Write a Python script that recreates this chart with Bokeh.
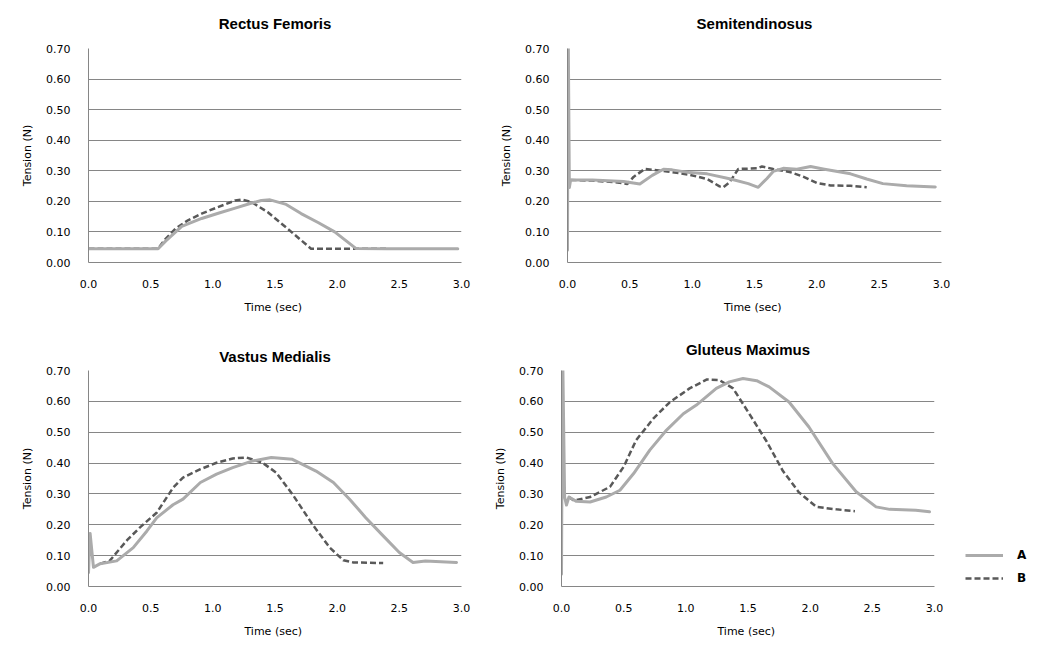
from bokeh.plotting import figure
from bokeh.layouts import column, row
from bokeh.models import (Range1d, FixedTicker, NumeralTickFormatter, Title,
                          Legend, LegendItem)
from bokeh.embed import file_html
from bokeh.resources import INLINE

# ---------------- data ----------------
titles = ["Rectus Femoris", "Semitendinosus", "Vastus Medialis", "Gluteus Maximus"]
series_names = ["A", "B"]
x_ticks = [0.0, 0.5, 1.0, 1.5, 2.0, 2.5, 3.0]
y_ticks = [0.0, 0.1, 0.2, 0.3, 0.4, 0.5, 0.6, 0.7]

# Rectus Femoris
rf_time_a = [0.0, 0.56, 0.62, 0.75, 0.91, 1.05, 1.18, 1.30, 1.39, 1.46, 1.59, 1.71,
             1.85, 1.98, 2.15, 2.40, 2.70, 2.97]
rf_a = [0.045, 0.045, 0.070, 0.118, 0.144, 0.162, 0.178, 0.193, 0.203, 0.205, 0.190,
        0.160, 0.130, 0.100, 0.046, 0.045, 0.045, 0.045]
rf_time_b = [0.0, 0.56, 0.61, 0.70, 0.80, 0.91, 1.04, 1.18, 1.23, 1.31, 1.44, 1.60,
             1.79, 2.10, 2.40]
rf_b = [0.045, 0.045, 0.073, 0.111, 0.138, 0.160, 0.181, 0.203, 0.206, 0.198, 0.165,
        0.111, 0.045, 0.045, 0.045]

# Semitendinosus
st_time_a = [0.0, 0.005, 0.015, 0.025, 0.20, 0.45, 0.58, 0.68, 0.77, 0.84, 0.98, 1.12,
             1.30, 1.45, 1.53, 1.60, 1.65, 1.73, 1.84, 1.95, 2.05, 2.27, 2.40, 2.53,
             2.72, 2.95]
st_a = [0.04, 0.80, 0.245, 0.27, 0.27, 0.265, 0.257, 0.285, 0.305, 0.303, 0.294, 0.29,
        0.274, 0.258, 0.246, 0.275, 0.298, 0.308, 0.305, 0.314, 0.306, 0.29, 0.273,
        0.258, 0.251, 0.247]
st_time_b = [0.025, 0.20, 0.40, 0.48, 0.53, 0.62, 0.80, 0.98, 1.12, 1.22, 1.25, 1.30,
             1.37, 1.52, 1.56, 1.65, 1.79, 1.89, 2.00, 2.11, 2.27, 2.40]
st_b = [0.27, 0.268, 0.262, 0.257, 0.28, 0.306, 0.298, 0.287, 0.273, 0.249, 0.246, 0.262,
        0.306, 0.308, 0.314, 0.306, 0.295, 0.281, 0.26, 0.252, 0.251, 0.246]

# Vastus Medialis
vm_time_a = [0.0, 0.013, 0.04, 0.094, 0.227, 0.36, 0.47, 0.55, 0.68, 0.76, 0.90, 1.03,
             1.16, 1.32, 1.47, 1.64, 1.83, 1.97, 2.10, 2.23, 2.37, 2.50, 2.61, 2.71, 2.96]
vm_a = [0.045, 0.172, 0.062, 0.074, 0.083, 0.126, 0.18, 0.223, 0.265, 0.283, 0.337,
        0.364, 0.385, 0.407, 0.418, 0.412, 0.374, 0.337, 0.283, 0.223, 0.164, 0.11,
        0.078, 0.083, 0.078]
vm_time_b = [0.094, 0.17, 0.31, 0.41, 0.55, 0.68, 0.76, 0.90, 1.03, 1.16, 1.27, 1.40,
             1.51, 1.64, 1.80, 1.94, 2.05, 2.13, 2.37]
vm_b = [0.074, 0.083, 0.15, 0.19, 0.24, 0.32, 0.353, 0.38, 0.401, 0.415, 0.418, 0.401,
        0.369, 0.299, 0.202, 0.126, 0.085, 0.078, 0.076]

# Gluteus Maximus
gm_time_a = [0.0, 0.008, 0.025, 0.04, 0.06, 0.12, 0.23, 0.36, 0.47, 0.58, 0.71, 0.845,
             0.98, 1.085, 1.245, 1.35, 1.46, 1.57, 1.67, 1.83, 1.99, 2.18, 2.37, 2.53,
             2.64, 2.85, 2.96]
gm_a = [0.04, 0.80, 0.29, 0.264, 0.29, 0.276, 0.274, 0.29, 0.312, 0.366, 0.442, 0.507,
        0.56, 0.588, 0.642, 0.663, 0.674, 0.667, 0.647, 0.598, 0.517, 0.399, 0.307,
        0.258, 0.25, 0.247, 0.242]
gm_time_b = [0.06, 0.10, 0.23, 0.39, 0.50, 0.60, 0.74, 0.87, 1.03, 1.17, 1.27, 1.38,
             1.51, 1.65, 1.78, 1.91, 2.05, 2.21, 2.36]
gm_b = [0.29, 0.278, 0.29, 0.323, 0.388, 0.474, 0.545, 0.597, 0.642, 0.671, 0.669, 0.642,
        0.56, 0.47, 0.375, 0.305, 0.258, 0.25, 0.244]

# ---------------- style ----------------
FONT = "DejaVu Sans"
TITLE_FONT = "Liberation Sans"
GRID = "#868686"
COLOR_A = "#ababab"
COLOR_B = "#595959"
DASH_B = "6 3"


def make_panel(title, ta, va, tb, vb, width, height, borders, title_standoff, top_grid=True):
    left, right, top, bottom = borders
    p = figure(width=width, height=height, x_range=Range1d(0, 3), y_range=Range1d(0, 0.7),
               output_backend="svg", toolbar_location=None,
               min_border_left=left, min_border_right=right,
               min_border_top=top, min_border_bottom=bottom)
    p.title = Title(text=title, align="center", vertical_align="top",
                    text_font=TITLE_FONT, text_font_style="bold", text_font_size="15px",
                    text_color="#000000", standoff=title_standoff)
    p.outline_line_color = None
    p.background_fill_color = "white"
    p.border_fill_color = "white"
    p.xgrid.visible = False
    grid_ticks = y_ticks if top_grid else y_ticks[:-1]
    p.ygrid.ticker = FixedTicker(ticks=grid_ticks)
    p.ygrid.grid_line_color = GRID
    p.ygrid.grid_line_width = 1

    for ax in (p.xaxis[0], p.yaxis[0]):
        ax.axis_line_color = GRID
        ax.axis_line_width = 1
        ax.major_tick_line_color = None
        ax.minor_tick_line_color = None
        ax.major_tick_out = 0
        ax.major_tick_in = 0
        ax.major_label_text_font = FONT
        ax.major_label_text_font_size = "11px"
        ax.major_label_text_color = "#000000"
        ax.axis_label_text_font = FONT
        ax.axis_label_text_font_size = "11px"
        ax.axis_label_text_font_style = "normal"
        ax.axis_label_text_color = "#000000"

    p.xaxis.ticker = FixedTicker(ticks=x_ticks)
    p.xaxis.formatter = NumeralTickFormatter(format="0.0")
    p.xaxis.axis_label = "Time  (sec)"
    p.xaxis.major_label_standoff = 17
    p.xaxis.axis_label_standoff = 10

    p.yaxis.ticker = FixedTicker(ticks=y_ticks)
    p.yaxis.formatter = NumeralTickFormatter(format="0.00")
    p.yaxis.axis_label = "Tension (N)"
    p.yaxis.major_label_standoff = 18
    p.yaxis.axis_label_standoff = 9

    # series B underneath, series A drawn on top (as in the reference)
    p.line(tb, vb, line_color=COLOR_B, line_width=2.5, line_dash=DASH_B, line_join="round")
    p.line(ta, va, line_color=COLOR_A, line_width=3, line_join="round", line_cap="round")
    return p


p1 = make_panel(titles[0], rf_time_a, rf_a, rf_time_b, rf_b, 490, 330,
                (88, 29, 48, 68), 29)
p2 = make_panel(titles[1], st_time_a, st_a, st_time_b, st_b, 549, 330,
                (77, 98, 48, 68), 29)
p3 = make_panel(titles[2], vm_time_a, vm_a, vm_time_b, vm_b, 490, 320,
                (88, 29, 40, 64), 7, top_grid=False)
p4 = make_panel(titles[3], gm_time_a, gm_a, gm_time_b, gm_b, 470, 320,
                (71, 26, 40, 64), 21)

# legend panel: the key's line renderers hold the Gluteus Maximus series,
# but the view range is set away from them so only the legend shows.
p5 = figure(width=80, height=320, x_range=Range1d(-2, -1), y_range=Range1d(-2, -1),
            output_backend="svg", toolbar_location=None,
            x_axis_location=None, y_axis_location=None,
            min_border_left=0, min_border_right=0, min_border_top=40, min_border_bottom=63)
p5.outline_line_color = None
p5.grid.visible = False
p5.background_fill_color = "white"
p5.border_fill_color = "white"
key_a = p5.line(gm_time_a, gm_a, line_color=COLOR_A, line_width=3)
key_b = p5.line(gm_time_b, gm_b, line_color=COLOR_B, line_width=2.5, line_dash=DASH_B)
legend = Legend(items=[LegendItem(label=series_names[0], renderers=[key_a]),
                       LegendItem(label=series_names[1], renderers=[key_b])],
                location=(5, 0), glyph_width=38, glyph_height=16, label_height=16,
                label_standoff=14, spacing=7, padding=0, margin=0,
                border_line_color=None, background_fill_alpha=0,
                label_text_font=FONT, label_text_font_style="bold",
                label_text_font_size="12px", label_text_color="#000000")
p5.add_layout(legend)

layout = column(row(p1, p2), row(p3, p4, p5))

open("out.html", "w").write(file_html(layout, INLINE))
